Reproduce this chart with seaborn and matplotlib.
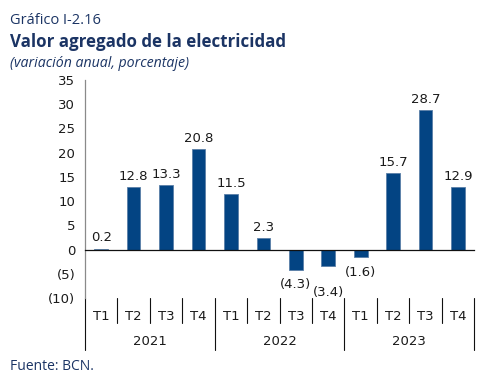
import matplotlib
matplotlib.use("Agg")
import matplotlib.pyplot as plt
import matplotlib.transforms as mtransforms
import seaborn as sns
import pandas as pd

BAR_BLUE = "#034483"
TITLE_BLUE = "#1b3464"
TEXT_DARK = "#1a1a1a"

years = ["2021", "2022", "2023"]
quarters = ["T1", "T2", "T3", "T4"]
values = [0.2, 12.8, 13.3, 20.8, 11.5, 2.3, -4.3, -3.4, -1.6, 15.7, 28.7, 12.9]
yticks = [-10, -5, 0, 5, 10, 15, 20, 25, 30, 35]

# offsets for the negative labels (data units below the bar end), as in the original
neg_label_drop = {6: 2.9, 7: 5.4, 8: 3.1}

periods = [f"{y} {q}" for y in years for q in quarters]
df = pd.DataFrame({"periodo": periods, "valor": values})

sns.set_style("white")
plt.rcParams["font.family"] = ["DejaVu Sans"]

fig = plt.figure(figsize=(4.94, 3.86), dpi=100)
ax = fig.add_axes([0.172, 0.228, 0.788, 0.565])

sns.barplot(data=df, x="periodo", y="valor", color=BAR_BLUE, width=0.42,
            edgecolor="#5a7fa8", linewidth=0.6, saturation=1, ax=ax)

ax.set_ylim(-10, 35)
ax.set_xlim(-0.5, len(values) - 0.5)
ax.set_yticks(yticks)
ax.set_yticklabels([f"({abs(t)})" if t < 0 else str(t) for t in yticks],
                   fontsize=9.5, color=TEXT_DARK)
ax.set_xlabel("")
ax.set_ylabel("")

for s in ["top", "right"]:
    ax.spines[s].set_visible(False)
ax.spines["left"].set_color("#8a8a8a")
ax.spines["left"].set_linewidth(0.9)
ax.spines["bottom"].set_position(("data", 0))
ax.spines["bottom"].set_color("#111111")
ax.spines["bottom"].set_linewidth(0.9)
ax.tick_params(axis="y", direction="out", length=4, width=0.8, color="#8a8a8a", pad=3)

# boundary ticks on the zero line
bounds = [i - 0.5 for i in range(len(values) + 1)]
ax.set_xticks(bounds)
ax.set_xticklabels([])
ax.tick_params(axis="x", direction="out", length=3, width=0.8, color="#111111")

# value labels
for i, v in enumerate(values):
    if v >= 0:
        ax.annotate(f"{v:.1f}", (i, v), xytext=(0, 3), textcoords="offset points",
                    ha="center", va="bottom", fontsize=9.5, color=TEXT_DARK)
    else:
        ax.text(i, v - neg_label_drop.get(i, 3), f"({abs(v):.1f})",
                ha="center", va="center", fontsize=9.5, color=TEXT_DARK)

# two-level category axis below the plot
trans = mtransforms.blended_transform_factory(ax.transData, ax.transAxes)
for i, p in enumerate(periods):
    ax.text(i, -0.085, p.split()[1], transform=trans, ha="center", va="center",
            fontsize=9.5, color=TEXT_DARK)
for j, b in enumerate(bounds):
    is_year = j % 4 == 0
    y_end = -0.24 if is_year else -0.115
    ax.plot([b, b], [0, y_end], transform=trans, color="#111111", lw=0.8,
            clip_on=False)
for k, y in enumerate(years):
    ax.text(k * 4 + 1.5, -0.2, y, transform=trans, ha="center", va="center",
            fontsize=9.5, color=TEXT_DARK)

# headings
fig.text(0.02, 0.948, "Gráfico I-2.16", fontsize=10.5, color=TITLE_BLUE,
         family="Open Sans", ha="left", va="center")
fig.text(0.02, 0.890, "Valor agregado de la electricidad", fontsize=12.2,
         color=TITLE_BLUE, family="Open Sans", fontweight="bold", ha="left", va="center")
fig.text(0.02, 0.836, "(variación anual, porcentaje)", fontsize=10.2,
         color=TITLE_BLUE, family="Open Sans", style="italic", ha="left", va="center")
fig.text(0.02, 0.05, "Fuente: BCN.", fontsize=10, color=TITLE_BLUE,
         family="Open Sans", ha="left", va="center")

fig.savefig("out.png", dpi=100, facecolor="white")
